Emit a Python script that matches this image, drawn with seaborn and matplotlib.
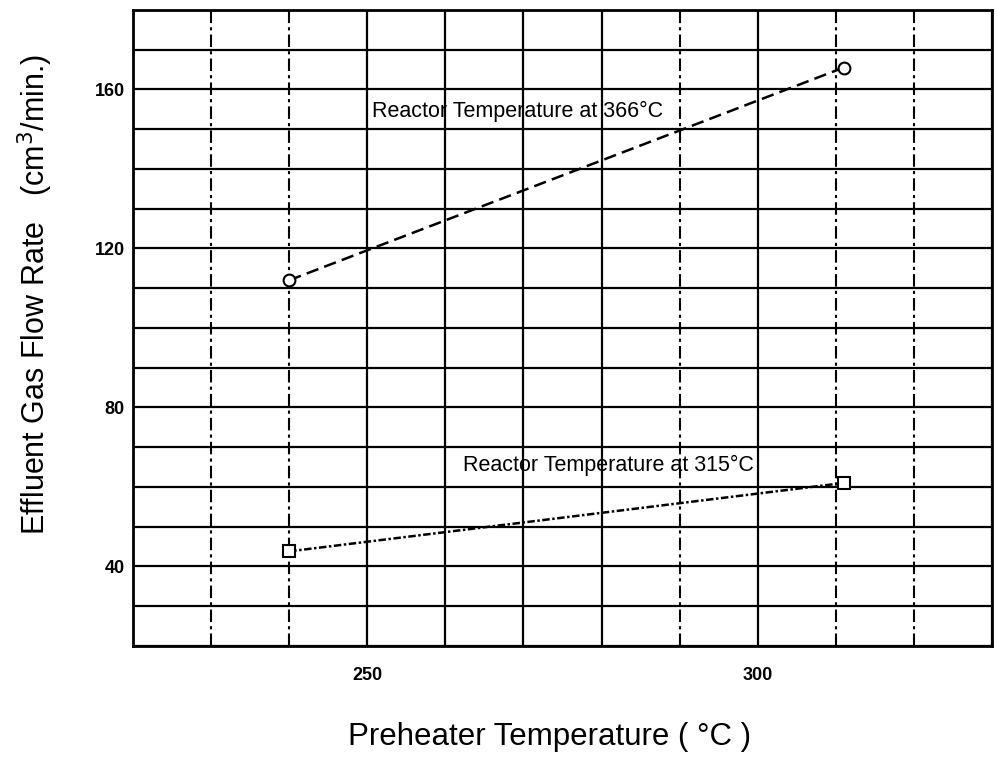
import matplotlib
matplotlib.use("Agg")
import matplotlib.pyplot as plt
import seaborn as sns
import pandas as pd
from matplotlib.ticker import MultipleLocator, FuncFormatter

# data
preheater_temp = [240, 311]
flow_366 = [112, 165.5]
flow_315 = [43.8, 61]
series_names = ["Reactor Temperature at 366°C", "Reactor Temperature at 315°C"]
x_tick_labels = [250, 300]
y_tick_labels = [40, 80, 120, 160]
dashed_x_grid = [230, 240, 290, 310, 320]

df = pd.DataFrame({
    "Preheater": preheater_temp * 2,
    "Flow": flow_366 + flow_315,
    "Series": [series_names[0]] * 2 + [series_names[1]] * 2,
})

sns.set_style("white")
plt.rcParams["font.family"] = ["Liberation Sans", "DejaVu Sans"]
plt.rcParams["text.color"] = "black"
plt.rcParams["axes.labelcolor"] = "black"
plt.rcParams["xtick.color"] = "black"
plt.rcParams["ytick.color"] = "black"

fig = plt.figure(figsize=(9.97, 7.65), dpi=100)
ax = fig.add_axes([0.1334, 0.1556, 0.8616, 0.8314])

sns.lineplot(data=df, x="Preheater", y="Flow", hue="Series", style="Series",
             markers={series_names[0]: "o", series_names[1]: "s"},
             dashes={series_names[0]: (5, 2.5), series_names[1]: (3, 1, 1, 1)},
             palette={series_names[0]: "black", series_names[1]: "black"},
             markersize=8.5, markerfacecolor="white", markeredgecolor="black",
             markeredgewidth=1.5, linewidth=1.8, legend=False, ax=ax, zorder=3)

ax.set_xlim(220, 330)
ax.set_ylim(20, 180)
ax.xaxis.set_major_locator(MultipleLocator(10))
ax.yaxis.set_major_locator(MultipleLocator(10))
ax.xaxis.set_major_formatter(FuncFormatter(lambda v, p: f"{v:.0f}" if round(v) in x_tick_labels else ""))
ax.yaxis.set_major_formatter(FuncFormatter(lambda v, p: f"{v:.0f}" if round(v) in y_tick_labels else ""))
ax.tick_params(axis="both", length=0, labelsize=13)
ax.tick_params(axis="y", pad=6)
ax.tick_params(axis="x", pad=15)
for lab in ax.get_xticklabels() + ax.get_yticklabels():
    lab.set_fontweight("bold")

ax.grid(True, color="black", linewidth=1.6)
for gl in ax.get_xgridlines():
    xs = gl.get_xdata()
    if len(xs) and round(xs[0]) in dashed_x_grid:
        gl.set_linestyle((0, (6, 2, 1.5, 2)))
        gl.set_linewidth(1.5)

for s in ax.spines.values():
    s.set_color("black")
    s.set_linewidth(2)

ax.text(250.6, 154.5, series_names[0], fontsize=15.5, va="center", ha="left")
ax.text(262.3, 65.4, series_names[1], fontsize=15.5, va="center", ha="left")

ax.set_xlabel("Preheater Temperature ( °C )", fontsize=22.5)
ax.set_ylabel("Effluent Gas Flow Rate   (cm$^3$/min.)", fontsize=22)
ax.xaxis.set_label_coords(0.485, -0.12)
ax.yaxis.set_label_coords(-0.091, 0.552)

plt.savefig("out.png", dpi=100)
